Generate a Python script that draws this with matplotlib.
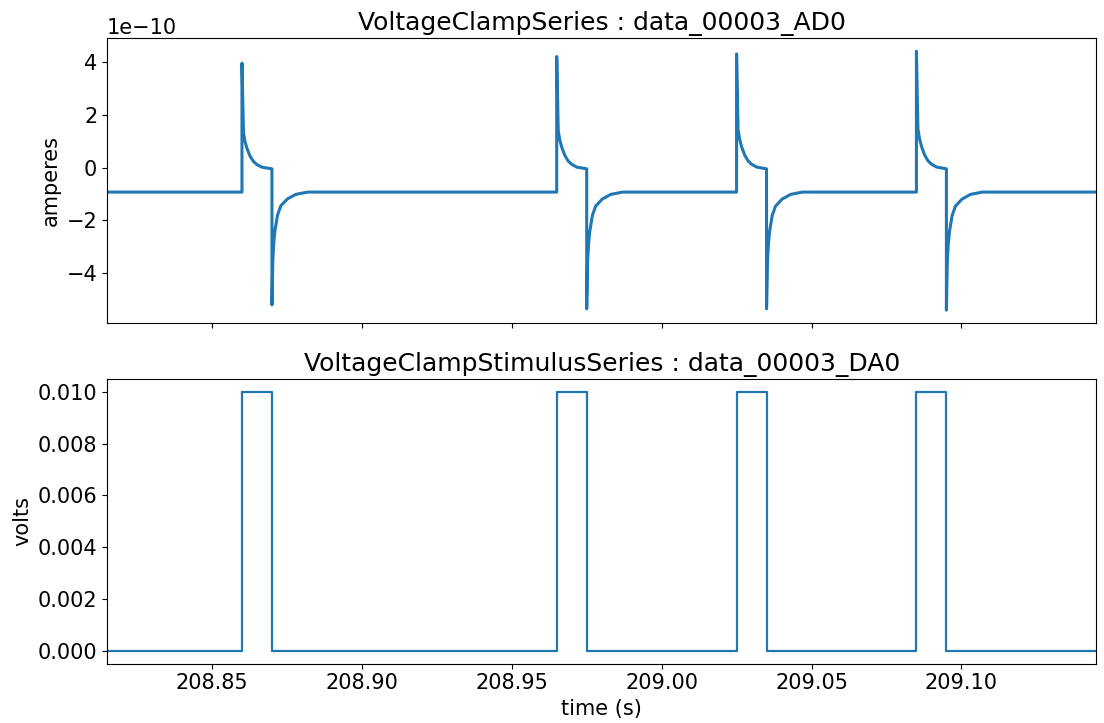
import matplotlib
matplotlib.use("Agg")
import matplotlib.pyplot as plt

# sweep window (s)
t_start = 208.815
t_end = 209.145

# stimulus pulses: onset times (s), width (s), amplitude (V)
pulse_on = [208.86, 208.965, 209.025, 209.085]
pulse_width = 0.010
pulse_amp = 0.010

baseline = -0.93e-10
plateau = -0.05e-10
peak_on = [3.95e-10, 4.2e-10, 4.3e-10, 4.4e-10]
peak_off = [-5.2e-10, -5.35e-10, -5.35e-10, -5.4e-10]

# capacitive transient shapes: ms after the edge, fraction of the peak
on_ms = [0.0, 0.5, 1.0, 1.7, 2.7, 3.8, 5.0, 6.7, 10.0]
on_frac = [1.0, 0.34, 0.26, 0.19, 0.12, 0.07, 0.04, 0.015, 0.0]
off_ms = [0.0, 0.3, 0.6, 1.0, 1.9, 3.0, 5.2, 8.0, 12.0]
off_frac = [1.0, 0.6, 0.45, 0.34, 0.2, 0.12, 0.06, 0.02, 0.0]

# build the traces from the values above
cur_t = [t_start]
cur_v = [baseline]
stim_t = [t_start]
stim_v = [0.0]
for t0, pk, tr in zip(pulse_on, peak_on, peak_off):
    t1 = t0 + pulse_width
    cur_t.append(t0)
    cur_v.append(baseline)
    for ms, fr in zip(on_ms, on_frac):
        cur_t.append(t0 + ms / 1000)
        cur_v.append(plateau + (pk - plateau) * fr)
    cur_t.append(t1)
    cur_v.append(plateau)
    for ms, fr in zip(off_ms, off_frac):
        cur_t.append(t1 + ms / 1000)
        cur_v.append(baseline + (tr - baseline) * fr)
    stim_t += [t0, t0, t1, t1]
    stim_v += [0.0, pulse_amp, pulse_amp, 0.0]
cur_t.append(t_end)
cur_v.append(baseline)
stim_t.append(t_end)
stim_v.append(0.0)

plt.rcParams['font.size'] = 15

fig, (ax1, ax2) = plt.subplots(2, 1, sharex=True, figsize=(11.04, 7.23), dpi=100)
fig.subplots_adjust(left=0.097, right=0.993, top=0.947, bottom=0.082, hspace=0.196)

ax1.plot(cur_t, cur_v, color='#1f77b4', lw=2.2)
ax1.set_title('VoltageClampSeries : data_00003_AD0', fontsize=18)
ax1.set_ylabel('amperes')

ax2.plot(stim_t, stim_v, color='#1f77b4', lw=1.6)
ax2.set_title('VoltageClampStimulusSeries : data_00003_DA0', fontsize=18)
ax2.set_ylabel('volts')
ax2.set_xlabel('time (s)')
ax2.set_xlim(t_start, t_end)

fig.savefig('out.png')
